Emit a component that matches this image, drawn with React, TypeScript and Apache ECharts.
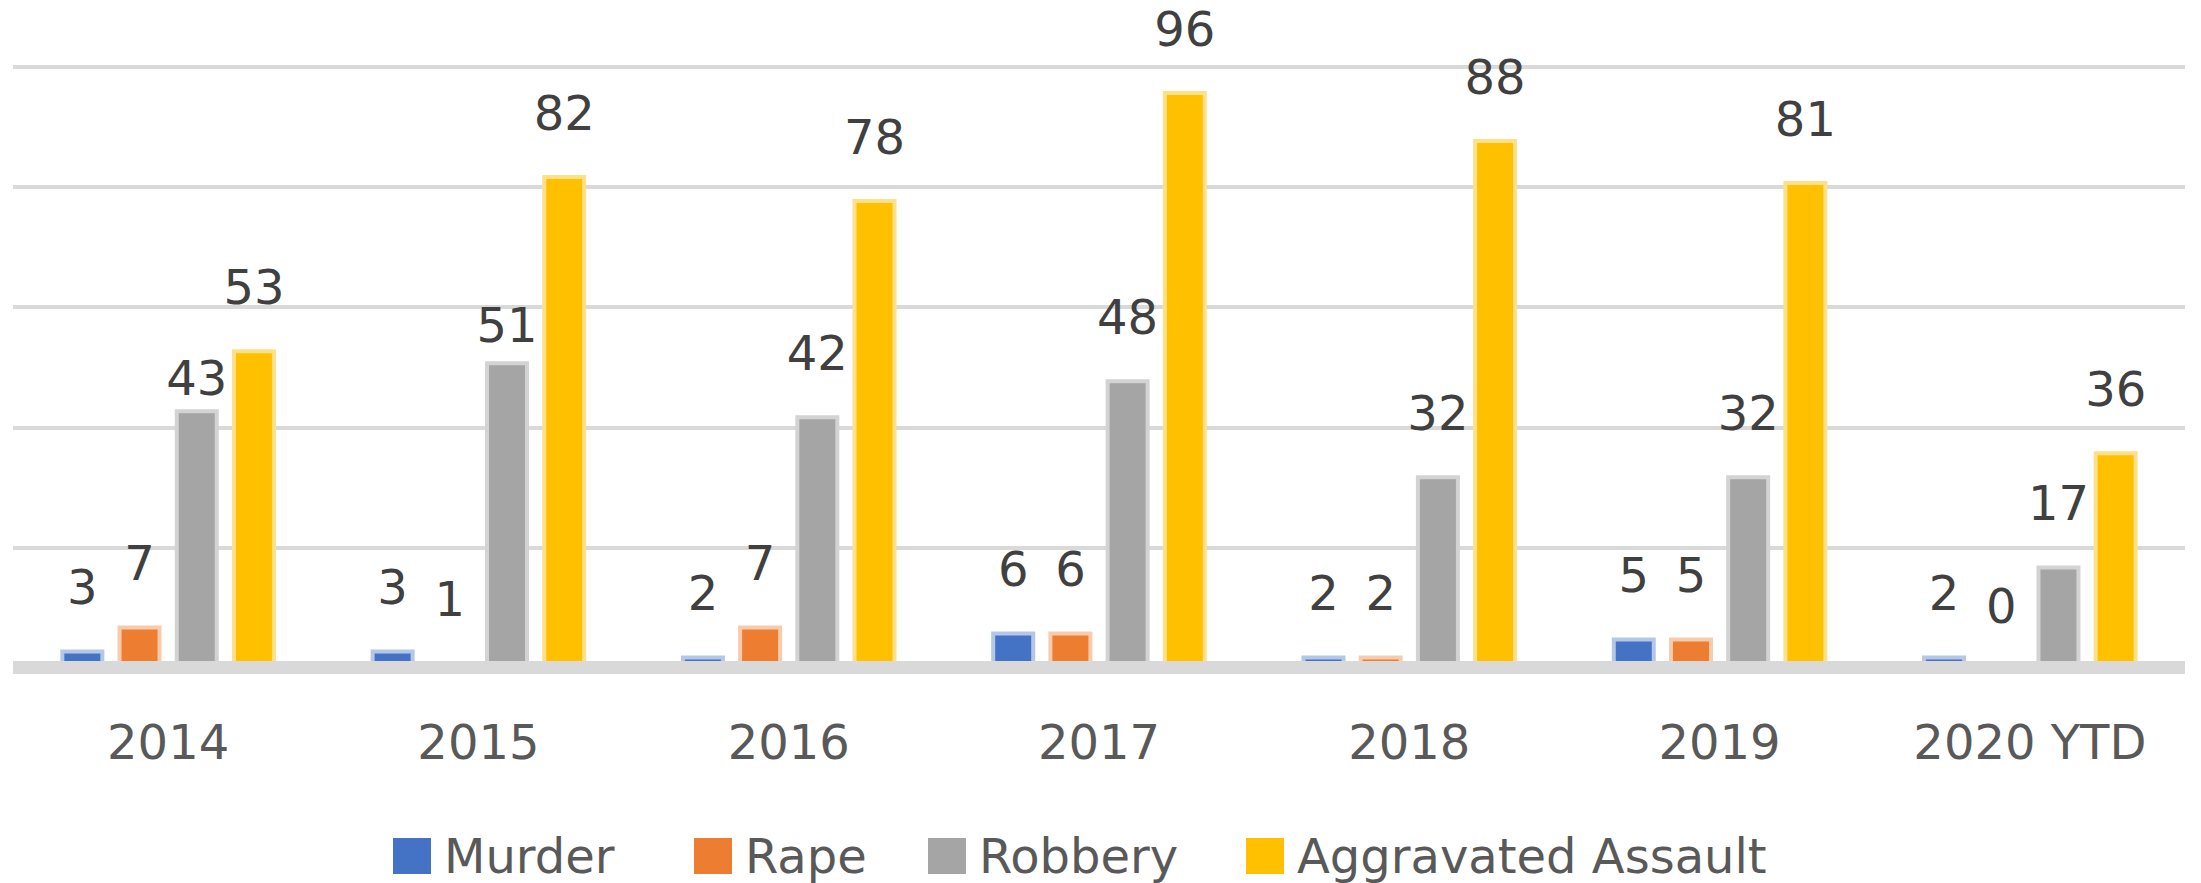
import React, { useEffect, useRef } from "react";
import * as echarts from "echarts";

const categories = ["2014", "2015", "2016", "2017", "2018", "2019", "2020 YTD"];
const seriesNames = ["Murder", "Rape", "Robbery", "Aggravated Assault"];
const murder = [3, 3, 2, 6, 2, 5, 2];
const rape = [7, 1, 7, 6, 2, 5, 0];
const robbery = [43, 51, 42, 48, 32, 32, 17];
const aggravatedAssault = [53, 82, 78, 96, 88, 81, 36];
const yMin = 0;
const yMax = 100;
const yStep = 20;

const colors = ["#4472C4", "#ED7D31", "#A5A5A5", "#FFC000"];
const halos = ["#b4c7e7", "#f8cbad", "#d3d3d3", "#ffe08a"];
const legendLefts = [393, 694, 928, 1246];
const FONT = "DejaVu Sans";

export default function App() {
  const ref = useRef<HTMLDivElement>(null);
  useEffect(() => {
    document.body.style.margin = "0";
    if (!ref.current) return;
    const chart = echarts.init(ref.current, undefined, { renderer: "svg" });
    const values = [murder, rape, robbery, aggravatedAssault];
    const labelDistance = (s: number, i: number) => {
      if (s === 2 && i === 0) return 7;
      if (s === 2 && i === 1) return 12;
      return 38;
    };
    const series = seriesNames.map((name, s) => ({
      name,
      type: "bar",
      barWidth: 44,
      barGap: "30%",
      itemStyle: { color: colors[s], borderColor: halos[s], borderWidth: 4 },
      label: {
        show: true,
        position: "top",
        fontFamily: FONT,
        fontSize: 48,
        color: "#404040",
      },
      data: values[s].map((v, i) => ({
        value: v,
        itemStyle: v === 0 ? { borderWidth: 0 } : undefined,
        label: { distance: labelDistance(s, i) },
      })),
    }));
    chart.setOption({
      animation: false,
      backgroundColor: "#ffffff",
      legend: seriesNames.map((n, i) => ({
        data: [n],
        left: legendLefts[i],
        top: 832,
        padding: 0,
        itemWidth: 38,
        itemHeight: 36,
        icon: "rect",
        itemStyle: { borderWidth: 0 },
        textStyle: {
          fontFamily: FONT,
          fontSize: 48,
          color: "#595959",
          lineHeight: 36,
          padding: [0, 0, 0, 8],
        },
      })),
      grid: { left: 13, right: 16, top: 67, bottom: 215.5, containLabel: false },
      xAxis: {
        type: "category",
        data: categories,
        z: 10,
        axisTick: { show: false },
        axisLine: { show: true, lineStyle: { color: "#d9d9d9", width: 13, cap: "butt" } },
        axisLabel: { fontFamily: FONT, fontSize: 48, color: "#595959", margin: 50 },
      },
      yAxis: {
        type: "value",
        min: yMin,
        max: yMax,
        interval: yStep,
        axisLabel: { show: false },
        axisLine: { show: false },
        axisTick: { show: false },
        splitLine: { show: true, lineStyle: { color: "#d9d9d9", width: 4 } },
      },
      series,
    });
    return () => chart.dispose();
  }, []);
  return <div ref={ref} style={{ width: 2201, height: 883 }} />;
}
